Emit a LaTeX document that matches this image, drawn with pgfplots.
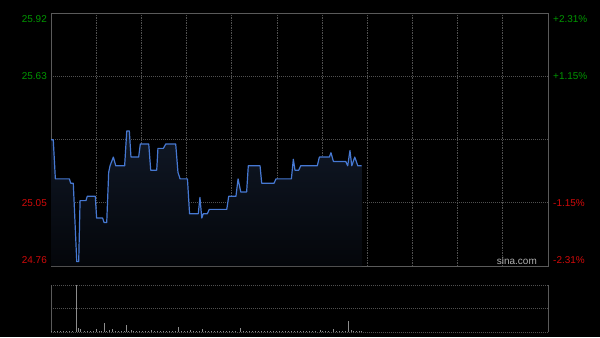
\documentclass[border=0pt]{standalone}
\usepackage{pgfplots}
\pgfplotsset{compat=1.18}
\usepackage{fontspec}
\setmainfont{Liberation Sans}
\definecolor{upgreen}{RGB}{0,150,0}
\definecolor{downred}{RGB}{210,10,10}
\definecolor{lineblue}{RGB}{70,120,210}
\definecolor{gridc}{RGB}{80,80,80}
\definecolor{borderc}{RGB}{90,90,90}
\definecolor{filltop}{RGB}{16,24,38}
\definecolor{fillbot}{RGB}{4,6,10}
\begin{document}
\begin{tikzpicture}[x=1bp,y=1bp]
\fill[black] (0,0) rectangle (600,337);
% price panel
\begin{axis}[
  at={(51bp,71bp)}, anchor=south west, scale only axis,
  width=497bp, height=252.7bp,
  xmin=0, xmax=330, ymin=24.76, ymax=25.92,
  xtick={30,60,...,300}, ytick={25.05,25.63},
  xticklabels={}, yticklabels={},
  major tick length=0pt,
  grid=major,
  x grid style={color=gridc, line width=0.8bp, dash pattern=on 1.5bp off 1bp},
  y grid style={color=gridc, line width=0.8bp, dash pattern=on 1bp off 1bp},
  extra y ticks={25.34}, extra y tick labels={},
  extra y tick style={grid=major, major tick length=0pt, grid style={color=gray!70, line width=0.8bp, dash pattern=on 3bp off 1bp on 1bp off 1bp}},
  axis line style={draw=borderc, line width=1bp},
  clip=false,
  font=\fontsize{10}{12}\selectfont,
]
\addplot[draw=none, top color=filltop, bottom color=fillbot] coordinates {
(0,24.76) (0,25.34) (1.5,25.34) (2.9,25.16) (12.2,25.16) (13.1,25.14) (14.8,25.14) (17.1,24.78) (18.4,24.78) (19.3,25.06) (23.2,25.06) (24.1,25.08) (29.4,25.08) (30.3,24.98) (34.3,24.98) (35.2,24.96) (37,24.96) (38.3,25.19) (39.2,25.22) (41.4,25.26) (43,25.22) (48.9,25.22) (50.3,25.38) (52,25.38) (53.1,25.26) (58.2,25.26) (59.3,25.32) (64.9,25.32) (66.2,25.20) (70.2,25.20) (71,25.30) (74.6,25.30) (76.2,25.32) (82.8,25.32) (84.3,25.19) (85.7,25.16) (90.6,25.16) (92,25.00) (97.8,25.00) (98.9,25.075) (100.1,24.98) (101.1,25.00) (103.8,25.00) (105.1,25.02) (116.7,25.02) (118,25.08) (122.8,25.08) (124.2,25.16) (126,25.10) (129.9,25.10) (131,25.22) (138.8,25.22) (139.9,25.14) (148.1,25.14) (149.4,25.16) (159.6,25.16) (160.9,25.25) (162,25.20) (164.5,25.20) (165.8,25.22) (176.8,25.22) (178.2,25.26) (184.8,25.26) (185.9,25.28) (187.5,25.24) (195.7,25.24) (197,25.22) (198.5,25.29) (199.7,25.22) (201.7,25.26) (203.7,25.22) (206.3,25.22) (206.3,24.76)
};
\addplot[color=lineblue, line width=1.2bp, mark=none, line join=round] coordinates {
(0,25.34) (1.5,25.34) (2.9,25.16) (12.2,25.16) (13.1,25.14) (14.8,25.14) (17.1,24.78) (18.4,24.78) (19.3,25.06) (23.2,25.06) (24.1,25.08) (29.4,25.08) (30.3,24.98) (34.3,24.98) (35.2,24.96) (37,24.96) (38.3,25.19) (39.2,25.22) (41.4,25.26) (43,25.22) (48.9,25.22) (50.3,25.38) (52,25.38) (53.1,25.26) (58.2,25.26) (59.3,25.32) (64.9,25.32) (66.2,25.20) (70.2,25.20) (71,25.30) (74.6,25.30) (76.2,25.32) (82.8,25.32) (84.3,25.19) (85.7,25.16) (90.6,25.16) (92,25.00) (97.8,25.00) (98.9,25.075) (100.1,24.98) (101.1,25.00) (103.8,25.00) (105.1,25.02) (116.7,25.02) (118,25.08) (122.8,25.08) (124.2,25.16) (126,25.10) (129.9,25.10) (131,25.22) (138.8,25.22) (139.9,25.14) (148.1,25.14) (149.4,25.16) (159.6,25.16) (160.9,25.25) (162,25.20) (164.5,25.20) (165.8,25.22) (176.8,25.22) (178.2,25.26) (184.8,25.26) (185.9,25.28) (187.5,25.24) (195.7,25.24) (197,25.22) (198.5,25.29) (199.7,25.22) (201.7,25.26) (203.7,25.22) (206.3,25.22)
};
% left labels
\node[anchor=east, text=upgreen, inner sep=0pt] at ([xshift=-4bp,yshift=-6bp]rel axis cs:0,1) {25.92};
\node[anchor=east, text=upgreen, inner sep=0pt] at ([xshift=-4bp]axis cs:0,25.63) {25.63};
\node[anchor=east, text=downred, inner sep=0pt] at ([xshift=-4bp]axis cs:0,25.05) {25.05};
\node[anchor=east, text=downred, inner sep=0pt] at ([xshift=-4bp,yshift=6bp]rel axis cs:0,0) {24.76};
% right labels
\node[anchor=west, text=upgreen, inner sep=0pt] at ([xshift=5bp,yshift=-6bp]rel axis cs:1,1) {+2.31\%};
\node[anchor=west, text=upgreen, inner sep=0pt] at ([xshift=5bp]axis cs:330,25.63) {+1.15\%};
\node[anchor=west, text=downred, inner sep=0pt] at ([xshift=5bp]axis cs:330,25.05) {-1.15\%};
\node[anchor=west, text=downred, inner sep=0pt] at ([xshift=5bp,yshift=6bp]rel axis cs:1,0) {-2.31\%};
\node[anchor=south east, text={rgb,255:red,175;green,175;blue,175}, inner sep=0pt] at ([xshift=-11bp,yshift=1.5bp]rel axis cs:1,0) {sina.com};
\end{axis}
% volume panel
\begin{axis}[
  at={(51bp,5bp)}, anchor=south west, scale only axis,
  width=497bp, height=47bp,
  xmin=0, xmax=330, ymin=0, ymax=470,
  xtick=\empty, ytick={0,235,470},
  yticklabels={}, major tick length=0pt,
  ymajorgrids,
  y grid style={color=gridc, line width=0.8bp, dash pattern=on 1bp off 1bp},
  axis line style={draw=none},
  clip=false,
]
\draw[borderc, line width=1bp] (rel axis cs:0,0) -- (rel axis cs:0,1);
\draw[borderc, line width=1bp] (rel axis cs:1,0) -- (rel axis cs:1,1);
\addplot[ycomb, color={rgb,255:red,140;green,140;blue,140}, line width=0.9bp, mark=none] coordinates {
(0,8) (2,6) (4,8) (6,6) (8,8) (10,6) (12,8) (14,6) (16.8,470) (18.1,40) (19.7,30) (22,10) (24,8) (26,10) (28,8) (30.3,30) (32,10) (33.5,8) (35.4,93) (37,12) (38.7,20) (41,30) (43,12) (45,8) (47,10) (48.5,8) (50.3,67) (51.5,12) (53.1,20) (55,8) (57,10) (59,8) (61,10) (63,8) (64.5,10) (66.9,20) (68.5,8) (70.5,10) (72.5,8) (74.5,10) (76.5,8) (78.5,10) (80.5,8) (82.5,10) (84.5,50) (86.5,10) (88.5,8) (90.5,10) (92.8,20) (94.5,8) (96.5,10) (98.5,8) (100.7,30) (102.5,10) (104.5,8) (106.5,10) (108.5,8) (110.5,10) (112.5,8) (114.5,10) (116.5,8) (118.5,10) (120.5,8) (122.5,10) (125.5,40) (127.5,10) (129.5,8) (131.5,10) (133.5,8) (135.5,10) (137.5,8) (139.5,10) (141.5,8) (143.5,10) (145.5,8) (147.5,10) (149.5,8) (151.5,10) (153.5,8) (155.5,10) (157.5,8) (159.5,10) (161.5,8) (163.5,10) (165.5,8) (167.5,10) (169.5,8) (171.5,10) (173.5,8) (175.5,10) (178.6,20) (180.5,8) (182.5,10) (184.5,8) (187.5,30) (189.5,8) (191.5,10) (193.5,8) (195.5,10) (197.4,110) (199.2,20) (201,10) (203,8) (205,10) (206.3,8)
};
\end{axis}
\end{tikzpicture}
\end{document}
